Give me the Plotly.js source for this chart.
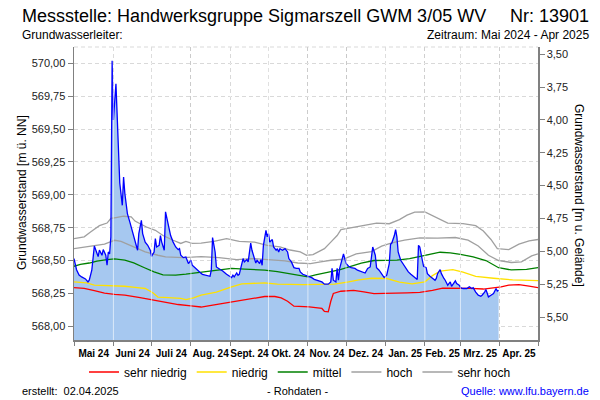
<!DOCTYPE html>
<html><head><meta charset="utf-8">
<script src="https://cdn.plot.ly/plotly-3.0.1.min.js"></script>
<style>html,body{margin:0;padding:0;background:#fff}#chart{width:600px;height:400px}</style>
</head><body><div id="chart"></div>
<script>
// ---- axis ticks ----
const monthStarts = ['2024-05-01','2024-06-01','2024-07-01','2024-08-01','2024-09-01','2024-10-01','2024-11-01','2024-12-01','2025-01-01','2025-02-01','2025-03-01','2025-04-01','2025-05-01'];
const monthLabels = ['Mai 24','Juni 24','Juli 24','Aug. 24','Sept. 24','Okt. 24','Nov. 24','Dez. 24','Jan. 25','Feb. 25','Mrz. 25','Apr. 25'];
const levelTicks = [568.00,568.25,568.50,568.75,569.00,569.25,569.50,569.75,570.00];
const depthTicks = [3.50,3.75,4.00,4.25,4.50,4.75,5.00,5.25,5.50];
const groundLevel = 573.57; // Geländehöhe [m ü. NN]

// ---- measured groundwater level (Rohdaten) ----
const messDates = ['2024-05-01','2024-05-03','2024-05-05','2024-05-07','2024-05-10','2024-05-12','2024-05-13','2024-05-15','2024-05-17','2024-05-19','2024-05-20','2024-05-21','2024-05-23','2024-05-24','2024-05-26','2024-05-27','2024-05-28','2024-05-29','2024-05-30','2024-05-31',
'2024-06-01','2024-06-03','2024-06-05','2024-06-06','2024-06-08','2024-06-09','2024-06-10','2024-06-12','2024-06-14','2024-06-16','2024-06-18','2024-06-20','2024-06-21','2024-06-23','2024-06-24','2024-06-26','2024-06-28','2024-06-30',
'2024-07-01','2024-07-03','2024-07-04','2024-07-05','2024-07-07','2024-07-08','2024-07-09','2024-07-10','2024-07-11','2024-07-12','2024-07-14','2024-07-16','2024-07-18','2024-07-20','2024-07-22','2024-07-23','2024-07-24','2024-07-26','2024-07-28','2024-07-30',
'2024-08-01','2024-08-02','2024-08-04','2024-08-06','2024-08-08','2024-08-10','2024-08-13','2024-08-16','2024-08-17','2024-08-18','2024-08-20','2024-08-21','2024-08-24','2024-08-26','2024-08-29','2024-08-31',
'2024-09-02','2024-09-03','2024-09-04','2024-09-06','2024-09-07','2024-09-08','2024-09-10','2024-09-11','2024-09-12','2024-09-14','2024-09-15','2024-09-17','2024-09-18','2024-09-20','2024-09-21','2024-09-22','2024-09-24','2024-09-25','2024-09-26','2024-09-27','2024-09-29','2024-09-30',
'2024-10-01','2024-10-02','2024-10-04','2024-10-05','2024-10-07','2024-10-08','2024-10-09','2024-10-10','2024-10-12','2024-10-14','2024-10-16','2024-10-17','2024-10-19','2024-10-21','2024-10-23','2024-10-25','2024-10-26','2024-10-28','2024-10-30',
'2024-11-01','2024-11-04','2024-11-06','2024-11-09','2024-11-12','2024-11-14','2024-11-17','2024-11-19','2024-11-20','2024-11-21','2024-11-23','2024-11-24','2024-11-25','2024-11-26','2024-11-29',
'2024-12-01','2024-12-03','2024-12-05','2024-12-08','2024-12-10','2024-12-13','2024-12-16','2024-12-18','2024-12-20','2024-12-21','2024-12-22','2024-12-24','2024-12-25','2024-12-27','2024-12-29','2024-12-31',
'2025-01-02','2025-01-03','2025-01-04','2025-01-05','2025-01-06','2025-01-08','2025-01-09','2025-01-10','2025-01-11','2025-01-13','2025-01-15','2025-01-17','2025-01-19','2025-01-21','2025-01-24','2025-01-26','2025-01-27','2025-01-28','2025-01-30','2025-01-31',
'2025-02-02','2025-02-03','2025-02-05','2025-02-07','2025-02-09','2025-02-10','2025-02-11','2025-02-13','2025-02-14','2025-02-16','2025-02-17','2025-02-19','2025-02-21','2025-02-22','2025-02-24','2025-02-25','2025-02-26','2025-02-28',
'2025-03-01','2025-03-03','2025-03-06','2025-03-08','2025-03-10','2025-03-11','2025-03-13','2025-03-15','2025-03-17','2025-03-18','2025-03-20','2025-03-21','2025-03-22','2025-03-23','2025-03-25','2025-03-27','2025-03-29','2025-03-30','2025-03-31'];
const messLevels = [568.515,568.43,568.39,568.375,568.36,568.337,568.35,568.426,568.61,568.565,568.53,568.58,568.54,568.583,568.54,568.464,568.565,568.55,568.68,570.02,
569.57,569.845,569.34,569.09,568.92,569.135,569.01,568.857,568.79,568.72,568.654,568.578,568.705,568.806,568.705,568.64,568.616,568.578,
568.532,568.565,568.667,568.603,568.616,568.69,568.64,568.603,568.578,568.87,568.768,568.69,568.64,568.603,568.583,568.59,568.54,568.522,568.527,568.477,
568.502,568.464,568.446,568.426,568.41,568.395,568.388,568.38,568.426,568.675,568.565,568.451,568.431,568.42,568.395,568.38,
568.37,568.388,568.375,568.405,568.388,568.395,568.477,568.515,568.489,568.507,568.489,568.633,568.578,568.502,568.481,568.502,568.477,568.507,568.464,568.616,568.73,568.68,
568.705,568.64,568.66,568.603,568.578,568.59,568.565,568.59,568.578,568.59,568.565,568.515,568.489,568.446,568.44,568.44,568.413,568.395,568.388,
568.38,568.37,568.357,568.345,568.337,568.32,568.32,568.337,568.44,568.35,568.337,568.44,568.35,568.44,568.55,
568.477,568.456,568.446,568.44,568.426,568.413,568.405,568.44,568.451,568.527,568.603,568.54,568.446,568.426,568.40,568.37,
568.388,568.426,568.477,568.624,568.633,568.69,568.735,568.68,568.565,568.502,568.47,568.44,568.413,568.395,568.375,568.355,568.616,568.603,568.502,568.456,
568.446,568.40,568.38,568.363,568.35,568.363,568.40,568.431,568.40,568.363,568.35,568.312,568.337,568.304,568.337,568.345,568.325,568.312,
568.294,568.287,568.287,568.30,568.287,568.294,568.26,568.236,568.228,568.236,568.26,568.28,568.253,568.223,568.236,568.249,568.287,568.268,568.274];

// ---- statistic reference lines ----
const sehrNiedrigDates = ['2024-05-01','2024-05-09','2024-05-17','2024-05-25','2024-06-02','2024-06-10','2024-06-22','2024-07-02','2024-07-12','2024-07-22','2024-08-01','2024-08-09','2024-08-17','2024-08-23','2024-08-31','2024-09-08','2024-09-18','2024-09-28','2024-10-06','2024-10-11','2024-10-16','2024-10-21','2024-11-02','2024-11-12','2024-11-14','2024-11-17','2024-11-19','2024-11-21','2024-11-27','2024-12-07','2024-12-15','2024-12-23','2024-12-31','2025-01-08','2025-01-18','2025-01-28','2025-02-07','2025-02-15','2025-02-25','2025-03-09','2025-03-19','2025-03-27','2025-04-02','2025-04-08','2025-04-16','2025-04-24','2025-05-01'];
const sehrNiedrig = [568.294,568.288,568.27,568.252,568.243,568.236,568.218,568.2,568.178,568.165,568.155,568.146,568.158,568.168,568.185,568.198,568.21,568.226,568.226,568.215,568.19,568.152,568.147,568.135,568.112,568.109,568.19,568.249,568.266,568.272,568.262,568.248,568.25,568.254,568.254,568.258,568.272,568.29,568.29,568.288,568.283,568.29,568.3,568.312,568.317,568.305,568.294];

const niedrigDates = ['2024-05-01','2024-05-11','2024-05-17','2024-05-27','2024-06-10','2024-06-18','2024-06-26','2024-07-02','2024-07-06','2024-07-14','2024-07-24','2024-07-28','2024-08-03','2024-08-09','2024-08-21','2024-09-02','2024-09-10','2024-09-28','2024-10-08','2024-10-28','2024-11-22','2024-12-03','2024-12-11','2024-12-21','2025-01-02','2025-01-12','2025-01-22','2025-02-01','2025-02-07','2025-02-13','2025-02-23','2025-03-03','2025-03-13','2025-03-27','2025-04-11','2025-05-01'];
const niedrig = [568.337,568.33,568.313,568.31,568.304,568.295,568.287,568.255,568.222,568.218,568.212,568.203,568.215,568.236,568.26,568.3,568.322,568.33,568.32,568.317,568.32,568.337,568.352,568.365,568.363,568.335,568.322,568.338,568.385,568.42,568.431,568.412,568.38,568.365,568.352,568.347];

const mittelDates = ['2024-05-01','2024-05-06','2024-05-13','2024-05-19','2024-05-27','2024-06-02','2024-06-10','2024-06-17','2024-06-25','2024-07-03','2024-07-10','2024-07-20','2024-07-28','2024-08-05','2024-08-13','2024-08-23','2024-09-02','2024-09-12','2024-09-28','2024-10-08','2024-10-18','2024-10-26','2024-11-01','2024-11-07','2024-11-13','2024-11-21','2024-11-27','2024-12-05','2024-12-13','2024-12-23','2025-01-10','2025-01-20','2025-01-30','2025-02-13','2025-02-21','2025-03-01','2025-03-11','2025-03-21','2025-03-31','2025-04-10','2025-04-22','2025-05-01'];
const mittel = [568.456,568.47,568.481,568.496,568.506,568.513,568.503,568.482,568.447,568.413,568.39,568.388,568.396,568.405,568.413,568.428,568.44,568.435,568.427,568.415,568.4,568.388,568.376,568.39,568.405,568.42,568.433,568.455,568.48,568.5,568.503,568.515,568.535,568.563,568.558,568.547,568.527,568.5,568.445,568.428,568.432,568.446];

const hochDates = ['2024-05-01','2024-05-11','2024-05-17','2024-05-25','2024-05-29','2024-06-02','2024-06-07','2024-06-14','2024-06-20','2024-06-26','2024-07-06','2024-07-12','2024-07-26','2024-08-09','2024-08-23','2024-09-06','2024-09-18','2024-09-30','2024-10-14','2024-10-24','2024-11-03','2024-11-11','2024-11-19','2024-11-29','2024-12-09','2024-12-21','2024-12-29','2025-01-06','2025-01-16','2025-01-28','2025-02-11','2025-02-25','2025-03-07','2025-03-15','2025-03-23','2025-03-31','2025-04-10','2025-04-18','2025-04-26','2025-05-01'];
const hoch = [568.59,568.603,568.616,568.624,568.64,568.654,568.645,568.616,568.59,568.565,568.54,568.527,568.522,568.53,568.522,568.507,568.515,568.507,568.497,568.481,568.477,568.489,568.502,568.51,568.55,568.568,568.61,568.635,568.655,568.672,568.67,568.675,568.655,568.61,568.54,568.5,568.485,568.49,568.535,568.55];

const sehrHochDates = ['2024-05-01','2024-05-09','2024-05-14','2024-05-21','2024-05-27','2024-05-30','2024-06-03','2024-06-09','2024-06-15','2024-06-18','2024-06-22','2024-06-27','2024-07-04','2024-07-10','2024-07-18','2024-07-24','2024-07-28','2024-08-02','2024-08-09','2024-08-19','2024-08-29','2024-09-08','2024-09-20','2024-09-30','2024-10-10','2024-10-18','2024-10-26','2024-10-31','2024-11-05','2024-11-09','2024-11-14','2024-11-19','2024-11-24','2024-11-27','2024-12-05','2024-12-13','2024-12-25','2025-01-04','2025-01-12','2025-01-18','2025-01-24','2025-02-01','2025-02-09','2025-02-19','2025-03-03','2025-03-13','2025-03-19','2025-03-25','2025-03-30','2025-04-08','2025-04-16','2025-04-24','2025-05-01'];
const sehrHoch = [568.667,568.68,568.717,568.765,568.785,568.82,568.827,568.837,568.833,568.8,568.78,568.755,568.73,568.69,568.654,568.63,568.646,568.63,568.633,568.645,568.667,568.645,568.64,568.616,568.603,568.58,568.565,568.54,568.545,568.565,568.59,568.64,568.69,568.735,568.75,568.76,568.785,568.78,568.811,568.845,568.868,568.87,568.835,568.785,568.78,568.765,568.725,568.66,568.59,568.583,568.625,568.65,568.66];

// ---- layout geometry (pixels) ----
const W = 600, H = 400, ML = 74, MR = 62, MT = 47, MB = 60;
const PW = W - ML - MR, PH = H - MT - MB;
const px = v => (v - ML) / PW;
const py = v => (H - MB - v) / PH;
const levelRange = [567.895, 570.125];
const xRange = [monthStarts[0], monthStarts[monthStarts.length - 1]];
const FONT = 'Liberation Sans, Arial, sans-serif';

// label positions: middle of each month period
const monthMids = monthStarts.slice(0, -1).map((d, i) => {
  const a = Date.parse(d + 'T00:00:00Z'), b = Date.parse(monthStarts[i + 1] + 'T00:00:00Z');
  return new Date((a + b) / 2).toISOString().slice(0, 19).replace('T', ' ');
});

const statLine = (x, y, name, color) => ({
  x: x, y: y, name: name, type: 'scatter', mode: 'lines',
  line: {color: color, width: 1.3}, hoverinfo: 'skip'
});

const traces = [
  {x: messDates, y: messLevels, type: 'scatter', mode: 'lines', fill: 'tozeroy',
   fillcolor: '#a6c8f0', line: {width: 0, color: '#a6c8f0'}, showlegend: false, hoverinfo: 'skip'},
  statLine(sehrNiedrigDates, sehrNiedrig, 'sehr niedrig', '#ff0000'),
  statLine(niedrigDates, niedrig, 'niedrig', '#ffe100'),
  statLine(mittelDates, mittel, 'mittel', '#008000'),
  statLine(hochDates, hoch, 'hoch', '#a0a0a0'),
  statLine(sehrHochDates, sehrHoch, 'sehr hoch', '#a0a0a0'),
  {x: messDates, y: messLevels, type: 'scatter', mode: 'lines',
   line: {color: '#0000ff', width: 1.3}, showlegend: false, hoverinfo: 'skip'},
  // carriers for the right-hand depth axis and the month-label axis
  {x: [messDates[0]], y: [null], yaxis: 'y2', type: 'scatter', mode: 'lines', showlegend: false, hoverinfo: 'skip'},
  {x: [messDates[0]], y: [null], xaxis: 'x2', type: 'scatter', mode: 'lines', showlegend: false, hoverinfo: 'skip'}
];

const monthLines = monthStarts.slice(1, -1).map(d => ({
  type: 'line', xref: 'x', yref: 'paper', x0: d, x1: d, y0: 0, y1: 1,
  line: {color: 'rgba(255,255,255,0.6)', width: 1}, layer: 'above'
}));
// faint upper frame line of the plot area
monthLines.push({type: 'line', xref: 'paper', yref: 'paper', x0: 0, x1: 1, y0: 1, y1: 1,
  line: {color: '#d9d9d9', width: 1, dash: '4px,3px'}, layer: 'below'});

const ann = (text, x, y, opts) => Object.assign({
  text: text, x: px(x), y: py(y), xref: 'paper', yref: 'paper',
  showarrow: false, yanchor: 'middle', font: {family: FONT, size: 12, color: '#000'}
}, opts || {});

const layout = {
  width: W, height: H,
  margin: {l: ML, r: MR, t: MT, b: MB, pad: 0},
  paper_bgcolor: '#fff', plot_bgcolor: '#fff',
  separators: ',.',
  font: {family: FONT, size: 11, color: '#000'},
  showlegend: true,
  legend: {orientation: 'h', x: px(300), xanchor: 'center', y: py(372), yanchor: 'middle',
           font: {family: FONT, size: 12, color: '#000'}, bgcolor: 'rgba(0,0,0,0)',
           itemwidth: 30, tracegroupgap: 0},
  xaxis: {
    type: 'date', range: xRange,
    tickmode: 'array', tickvals: monthStarts, showticklabels: false,
    ticks: 'outside', ticklen: 4, tickcolor: '#808080', tickwidth: 1,
    showline: true, linecolor: '#808080', linewidth: 1.5,
    showgrid: true, gridcolor: '#b1b1b1', gridwidth: 1, griddash: '4px,3px',
    zeroline: false, fixedrange: true
  },
  xaxis2: {
    type: 'date', range: xRange, overlaying: 'x', side: 'bottom', anchor: 'y',
    tickmode: 'array', tickvals: monthMids, ticktext: monthLabels, tickangle: 0,
    ticks: 'outside', ticklen: 4, tickcolor: 'rgba(0,0,0,0)',
    tickfont: {family: FONT, size: 10, color: '#000', weight: 'bold'},
    showline: false, showgrid: false, zeroline: false, fixedrange: true
  },
  yaxis: {
    range: levelRange, tickmode: 'array', tickvals: levelTicks, tickformat: '.2f',
    ticks: 'outside', ticklen: 5, tickcolor: '#808080',
    tickfont: {family: FONT, size: 11, color: '#222'},
    showline: true, linecolor: '#808080', linewidth: 1.5,
    showgrid: true, gridcolor: '#d9d9d9', gridwidth: 1, griddash: '4px,3px',
    zeroline: false, fixedrange: true
  },
  yaxis2: {
    overlaying: 'y', side: 'right', anchor: 'x',
    range: [groundLevel - levelRange[0], groundLevel - levelRange[1]],
    tickmode: 'array', tickvals: depthTicks, tickformat: '.2f',
    ticks: 'outside', ticklen: 5, tickcolor: '#808080',
    tickfont: {family: FONT, size: 11, color: '#222'},
    showline: true, linecolor: '#808080', linewidth: 1.5,
    showgrid: false, zeroline: false, fixedrange: true
  },
  shapes: monthLines,
  annotations: [
    ann('Messstelle: Handwerksgruppe Sigmarszell GWM 3/05 WV', 20, 16, {xanchor: 'left', font: {family: FONT, size: 18, color: '#000'}}),
    ann('Nr: 13901', 591, 16, {xanchor: 'right', font: {family: FONT, size: 18, color: '#000'}}),
    ann('Grundwasserleiter:', 20, 35, {xanchor: 'left'}),
    ann('Zeitraum: Mai 2024 - Apr 2025', 591, 35, {xanchor: 'right'}),
    ann('Grundwasserstand [m ü. NN]', 22, 193, {xanchor: 'center', textangle: -90}),
    ann('Grundwasserstand [m u. Gelände]', 579, 195, {xanchor: 'center', textangle: 90}),
    ann('erstellt:&nbsp; 02.04.2025', 20, 391, {xanchor: 'left', font: {family: FONT, size: 11, color: '#000'}}),
    ann('- Rohdaten -', 297, 391, {xanchor: 'center', font: {family: FONT, size: 11, color: '#000'}}),
    ann('Quelle: www.lfu.bayern.de', 591, 391, {xanchor: 'right', font: {family: FONT, size: 11, color: '#0000ff'}})
  ]
};

Plotly.newPlot('chart', traces, layout, {staticPlot: true, displayModeBar: false});
</script></body></html>
